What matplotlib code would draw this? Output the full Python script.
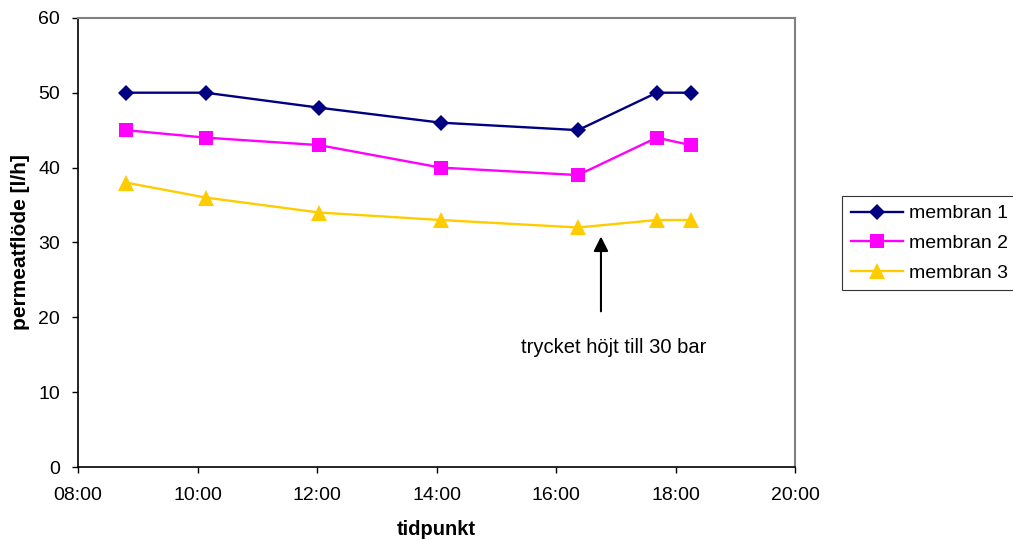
import numpy as np
import matplotlib
matplotlib.use("Agg")
import matplotlib.pyplot as plt
from matplotlib.ticker import FuncFormatter, MultipleLocator

plt.rcParams['font.family'] = ['Liberation Sans', 'DejaVu Sans']

# measurement times and permeate flow per membrane
TIMES = ['08:48', '10:08', '12:02', '14:04', '16:22', '17:41', '18:15']
MEMBRAN_1 = [50, 50, 48, 46, 45, 50, 50]
MEMBRAN_2 = [45, 44, 43, 40, 39, 44, 43]
MEMBRAN_3 = [38, 36, 34, 33, 32, 33, 33]
LABELS = ['membran 1', 'membran 2', 'membran 3']

ANNOT_TEXT = 'trycket höjt till 30 bar'
ANNOT_TIME = '16:45'
ANNOT_TIP, ANNOT_TAIL, ANNOT_TEXT_Y = 30.8, 20.8, 16.0


def to_hours(t):
    h, m = t.split(':')
    return int(h) + int(m) / 60.0


def fmt_time(x, pos):
    h = int(round(x * 60)) // 60
    m = int(round(x * 60)) % 60
    return '%02d:%02d' % (h, m)


x = np.array([to_hours(t) for t in TIMES])

fig = plt.figure(figsize=(10.13, 5.40), dpi=100)
ax = fig.add_axes([0.077, 0.135, 0.708, 0.832])

styles = [
    dict(color='#000080', marker='D', markersize=8.2),
    dict(color='#FF00FF', marker='s', markersize=10.5),
    dict(color='#FFCC00', marker='^', markersize=11.5),
]
for y, lab, st in zip([MEMBRAN_1, MEMBRAN_2, MEMBRAN_3], LABELS, styles):
    ax.plot(x, y, linewidth=1.7, label=lab, markeredgewidth=0, **st)

xa = to_hours(ANNOT_TIME)
ax.annotate('', xy=(xa, ANNOT_TIP), xytext=(xa, ANNOT_TAIL),
            arrowprops=dict(arrowstyle='-|>', color='black', lw=1.5,
                            mutation_scale=22, shrinkA=0, shrinkB=0))
ax.text(xa + 0.22, ANNOT_TEXT_Y, ANNOT_TEXT, ha='center', va='center', fontsize=14.5)

ax.set_xlim(8, 20)
ax.set_ylim(0, 60)
ax.xaxis.set_major_locator(MultipleLocator(2))
ax.xaxis.set_major_formatter(FuncFormatter(fmt_time))
ax.yaxis.set_major_locator(MultipleLocator(10))
ax.tick_params(axis='both', direction='out', length=4, width=1, labelsize=14, pad=9)
ax.tick_params(axis='x', pad=10)

ax.set_xlabel('tidpunkt', fontsize=14.5, fontweight='bold', labelpad=12)
ax.set_ylabel('permeatflöde [l/h]', fontsize=15, fontweight='bold', labelpad=6)

for s in ['left', 'bottom']:
    ax.spines[s].set_color('black')
    ax.spines[s].set_linewidth(1.2)
for s in ['top', 'right']:
    ax.spines[s].set_color('#808080')
    ax.spines[s].set_linewidth(1.5)

leg = fig.legend(loc='upper left', bbox_to_anchor=(0.831, 0.637), fontsize=14,
                 frameon=True, fancybox=False, borderpad=0.45, handlelength=2.7,
                 handletextpad=0.3, labelspacing=0.62, borderaxespad=0)
leg.get_frame().set_edgecolor('black')
leg.get_frame().set_linewidth(0.8)

fig.savefig('out.png', dpi=100)
